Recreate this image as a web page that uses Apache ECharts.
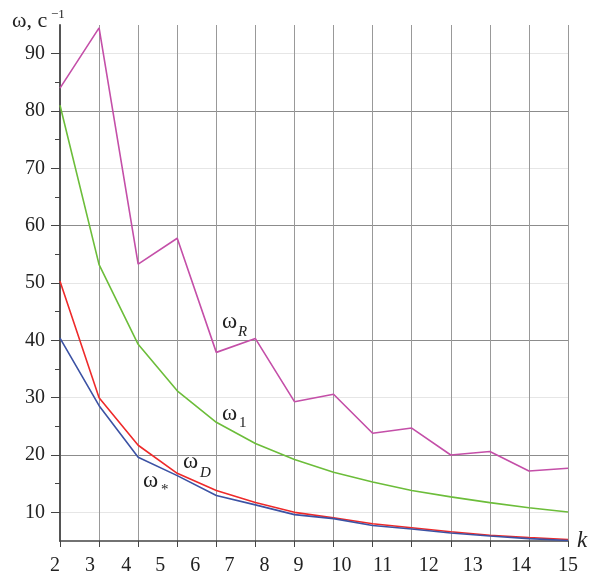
<!DOCTYPE html>
<html>
<head>
<meta charset="utf-8">
<script src="https://cdn.jsdelivr.net/npm/echarts@6/dist/echarts.min.js"></script>
<style>html,body{margin:0;padding:0;background:#fff;}#c{width:595px;height:576px;}</style>
</head>
<body>
<div id="c"></div>
<script>
// ---- data ----
var kValues = [2, 3, 4, 5, 6, 7, 8, 9, 10, 11, 12, 13, 14, 15];
var omegaR = [84.0, 94.5, 53.3, 57.8, 37.9, 40.3, 29.3, 30.6, 23.8, 24.7, 20.0, 20.6, 17.2, 17.7];
var omega1 = [81.0, 53.2, 39.3, 31.2, 25.7, 22.0, 19.2, 17.0, 15.3, 13.8, 12.7, 11.7, 10.8, 10.05];
var omegaD = [50.3, 30.0, 21.7, 16.8, 13.8, 11.7, 10.0, 9.05, 8.0, 7.3, 6.6, 6.0, 5.6, 5.25];
var omegaStar = [40.4, 28.6, 19.6, 16.4, 12.95, 11.3, 9.6, 8.9, 7.7, 7.1, 6.4, 5.88, 5.42, 5.08];
var yMajorTicks = [10, 20, 30, 40, 50, 60, 70, 80, 90];
var yMinorTicks = [15, 25, 35, 45, 55, 65, 75, 85];

function pairs(ys) { return kValues.map(function (k, i) { return [k, ys[i]]; }); }

// label horizontal shifts (px, leftwards) to mimic the original's label layout
var xLabelShift = {2: 5, 3: 9, 4: 12, 5: 17, 6: 21, 7: 26, 8: 30, 9: 35, 10: 31, 11: 29, 12: 22, 13: 17, 14: 8, 15: 0};
var xRich = {};
Object.keys(xLabelShift).forEach(function (k) {
  xRich['s' + k] = { padding: [0, 2 * xLabelShift[k], 0, 0], fontFamily: 'Liberation Serif', fontSize: 20, color: '#222' };
});

var FONT = 'Liberation Serif';
var chart = echarts.init(document.getElementById('c'), null, { renderer: 'canvas' });

function lineSeries(name, ys, color) {
  return {
    name: name, type: 'line', data: pairs(ys), symbol: 'none', smooth: false,
    lineStyle: { color: color, width: 1.6 }, itemStyle: { color: color }, z: 3
  };
}

chart.setOption({
  animation: false,
  backgroundColor: '#fff',
  grid: { left: 60, right: 27, top: 25, bottom: 34, containLabel: false },
  xAxis: {
    type: 'value', min: 2, max: 15, interval: 1,
    axisLine: { show: true, lineStyle: { color: '#444', width: 1.5 } },
    axisTick: { show: true, length: 6, lineStyle: { color: '#444', width: 1 } },
    axisLabel: {
      margin: 15,
      formatter: function (v) { return '{s' + v + '|' + v + '}'; },
      rich: xRich,
      fontFamily: FONT, fontSize: 20, color: '#222'
    },
    splitLine: { show: true, lineStyle: { color: '#999', width: 1 } }
  },
  yAxis: [{
    type: 'value', min: 5, max: 95, interval: 5,
    axisLine: { show: true, lineStyle: { color: '#555', width: 2 } },
    axisTick: { show: true, length: 9, customValues: yMajorTicks, lineStyle: { color: '#444', width: 1 } },
    axisLabel: { customValues: yMajorTicks, margin: 15, fontFamily: FONT, fontSize: 20, color: '#222' },
    splitLine: { show: true, lineStyle: { color: ['#e6e6e6', '#8c8c8c'], width: 1 } }
  }, {
    type: 'value', min: 5, max: 95, interval: 5, position: 'left',
    axisLine: { show: false },
    axisTick: { show: true, length: 5, customValues: yMinorTicks, lineStyle: { color: '#444', width: 1 } },
    axisLabel: { show: false },
    splitLine: { show: false }
  }],
  series: [
    lineSeries('omegaR', omegaR, '#c44fa8'),
    lineSeries('omega1', omega1, '#6cbd3a'),
    lineSeries('omegaD', omegaD, '#ee2a2a'),
    lineSeries('omegaStar', omegaStar, '#3c52a4')
  ],
  graphic: [
    { type: 'text', x: 12, y: 21, style: { text: 'ω, с', font: '22px "Liberation Serif"', fill: '#222', verticalAlign: 'middle' } },
    { type: 'text', x: 51, y: 15, style: { text: '−1', font: '13px "Liberation Serif"', fill: '#222', verticalAlign: 'middle' } },
    { type: 'text', x: 577, y: 541, style: { text: 'k', font: 'italic 23px "Liberation Serif"', fill: '#222', verticalAlign: 'middle' } },
    { type: 'text', x: 222, y: 322, style: { text: 'ω', font: '23px "Liberation Serif"', fill: '#222', verticalAlign: 'middle' } },
    { type: 'text', x: 238, y: 332, style: { text: 'R', font: 'italic 15px "Liberation Serif"', fill: '#222', verticalAlign: 'middle' } },
    { type: 'text', x: 222, y: 414, style: { text: 'ω', font: '23px "Liberation Serif"', fill: '#222', verticalAlign: 'middle' } },
    { type: 'text', x: 239, y: 423, style: { text: '1', font: '15px "Liberation Serif"', fill: '#222', verticalAlign: 'middle' } },
    { type: 'text', x: 183, y: 462, style: { text: 'ω', font: '23px "Liberation Serif"', fill: '#222', verticalAlign: 'middle' } },
    { type: 'text', x: 200, y: 473, style: { text: 'D', font: 'italic 15px "Liberation Serif"', fill: '#222', verticalAlign: 'middle' } },
    { type: 'text', x: 143, y: 481, style: { text: 'ω', font: '23px "Liberation Serif"', fill: '#222', verticalAlign: 'middle' } },
    { type: 'text', x: 161, y: 490, style: { text: '*', font: '15px "Liberation Serif"', fill: '#222', verticalAlign: 'middle' } }
  ]
});
</script>
</body>
</html>
